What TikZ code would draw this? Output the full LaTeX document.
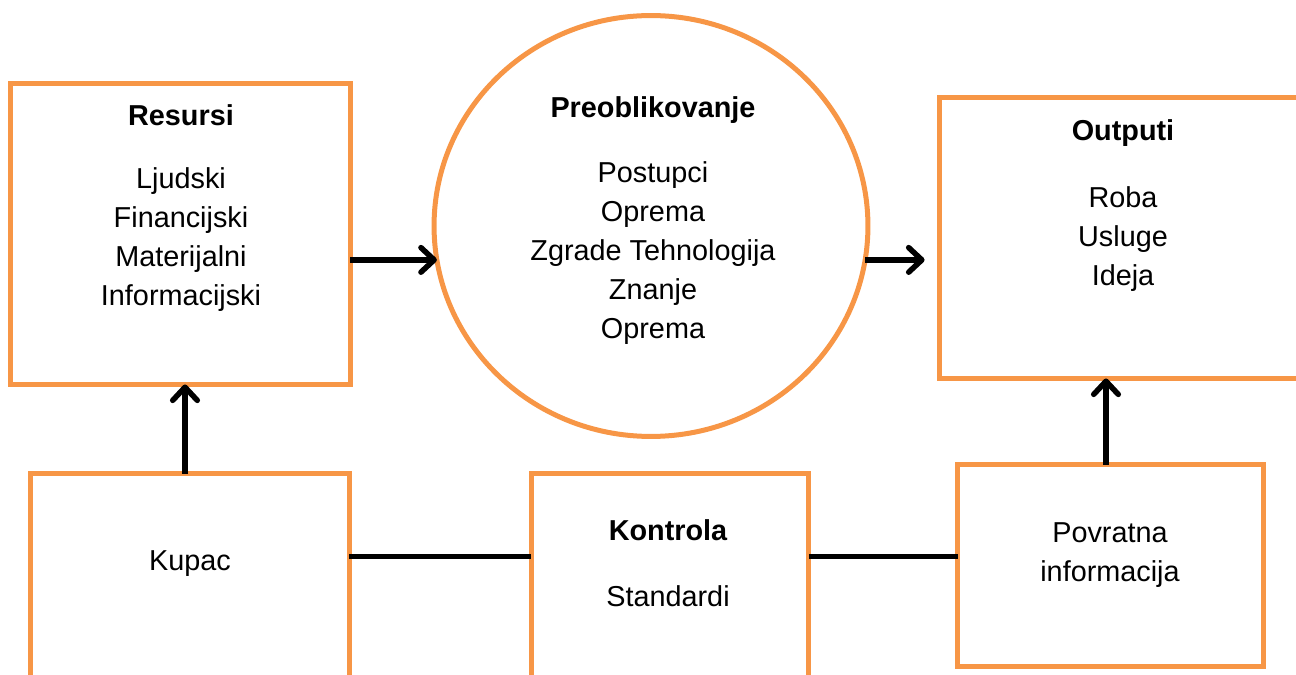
\documentclass[tikz,border=0pt]{standalone}
\usepackage{fontspec}
\setmainfont{Liberation Sans}
\usetikzlibrary{arrows.meta,shapes.geometric}
\definecolor{boxorange}{HTML}{F79646}
\begin{document}
\begin{tikzpicture}[x=0.02cm,y=-0.02cm,
  box/.style={draw=boxorange,line width=0.1cm,rectangle,inner sep=0pt,outer sep=0pt},
  txt/.style={align=center,inner sep=0pt,font=\fontsize{16.4}{22.1}\selectfont},
  head/.style={txt,font=\fontsize{16.4}{22.1}\selectfont\bfseries},
  arr/.style={line width=0.11cm,black,-{Straight Barb[length=7.5pt,width=14pt,round]}},
  conn/.style={line width=0.1cm,black}]
\useasboundingbox (0,0) rectangle (1296,675);
\clip (0,0) rectangle (1296,675);
% boxes
\node[box,minimum width=6.8cm,minimum height=6.02cm] (res) at (180.5,234) {};
\node[draw=boxorange,line width=0.1cm,ellipse,inner sep=0pt,outer sep=0pt,minimum width=8.68cm,minimum height=8.42cm] (circ) at (651,226) {};
\node[box,minimum width=7.41cm,minimum height=5.62cm] (out) at (1124.75,238) {};
\node[box,minimum width=6.38cm,minimum height=4.53cm] (kup) at (190,586.75) {};
\node[box,minimum width=5.56cm,minimum height=4.53cm] (kon) at (670,586.75) {};
\node[box,minimum width=6.13cm,minimum height=4.05cm] (pov) at (1110.75,565.75) {};
% texts
\node[head] (resh) at (181,115) {Resursi};
\node[txt] (resb) at (181,239.5) {Ljudski\\Financijski\\Materijalni\\Informacijski};
\node[head] (circh) at (653,110) {Preoblikovanje};
\node[txt] (circb) at (653,253) {Postupci\\Oprema\\Zgrade Tehnologija\\Znanje\\Oprema};
\node[head] (outh) at (1123,133) {Outputi};
\node[txt] (outb) at (1123,239) {Roba\\Usluge\\Ideja};
\node[txt] (kupt) at (190,564) {Kupac};
\node[head] (konh) at (668,530) {Kontrola};
\node[txt] (konb) at (668,596.5) {Standardi};
\node[txt] (povt) at (1110,555) {Povratna\\informacija};
% connectors
\coordinate (m1) at (0,557);
\coordinate (v1) at (185,0);
\coordinate (v2) at (1106,0);
\draw[arr] (res.east |- circ.189) -- (circ.189);
\draw[arr,shorten >=8.5pt] (circ.351) -- (circ.351 -| out.west);
\draw[arr] (kup.north -| v1) -- (res.south -| v1);
\draw[arr] (pov.north -| v2) -- (out.south -| v2);
\draw[conn] (kup.east |- m1) -- (kon.west |- m1);
\draw[conn] (kon.east |- m1) -- (pov.west |- m1);
\end{tikzpicture}
\end{document}
